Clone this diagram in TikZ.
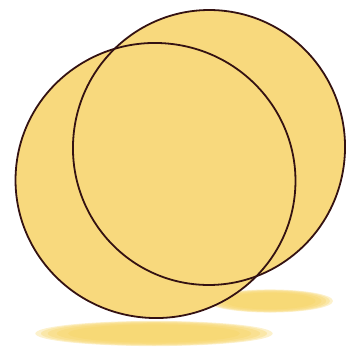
\documentclass[tikz,border=0pt]{standalone}
\usepackage{tikz}
\usepackage{xcolor}
\definecolor{discfill}{RGB}{248,217,125}
\definecolor{discline}{RGB}{52,18,18}
\definecolor{shadowcol}{RGB}{246,210,95}

\begin{document}
\begin{tikzpicture}[
    x=1pt, y=-1pt,
    disc/.style={fill=discfill},
    rim/.style={draw=discline, line width=1.8pt},
    blur/.style={fill=shadowcol, opacity=0.32}
]
\useasboundingbox (0,0) rectangle (347,354);
% centres
\coordinate (back) at (209,147.5);
\coordinate (front) at (155.5,180.5);
\coordinate (shadowL) at (154,333.5);
\coordinate (shadowR) at (270,301);
% soft shadows
\foreach \s in {1.05,1.0,0.94,0.86,0.76}{
    \fill[blur] (shadowL) ellipse ({113*\s} and {12*\s});
    \fill[blur] (shadowR) ellipse ({60*\s} and {11*\s});
}
% discs
\fill[disc, rotate around={-8:(back)}] (back) ellipse (136 and 137.5);
\fill[disc, rotate around={-6:(front)}] (front) ellipse (140 and 137.5);
% outlines
\draw[rim, rotate around={-8:(back)}] (back) ellipse (136 and 137.5);
\draw[rim, rotate around={-6:(front)}] (front) ellipse (140 and 137.5);
\end{tikzpicture}
\end{document}
